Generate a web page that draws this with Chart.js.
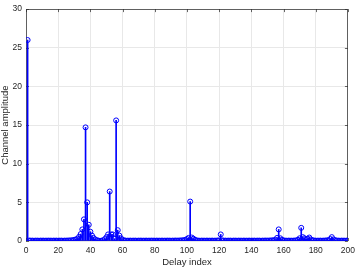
<!DOCTYPE html>
<html><head><meta charset="utf-8">
<script src="https://cdn.jsdelivr.net/npm/chart.js@4"></script>
<style>html,body{margin:0;padding:0;background:#fff}#wrap{width:360px;height:269px;position:relative}</style>
</head><body><div id="wrap"><canvas id="c"></canvas></div>
<script>
// Delay indices 1..200
const delayIndex = Array.from({length: 200}, (_, i) => i + 1);
// Channel amplitude
const amplitude = [
  26.0, 0.06, 0.05, 0.05, 0.04, 0.05, 0.05, 0.04, 0.05, 0.05,
  0.05, 0.04, 0.05, 0.05, 0.05, 0.04, 0.05, 0.05, 0.05, 0.04,
  0.05, 0.05, 0.04, 0.05, 0.05, 0.06, 0.07, 0.08, 0.10, 0.15,
  0.20, 0.30, 0.55, 0.90, 1.50, 2.80, 14.7, 5.00, 2.10, 1.20,
  0.70, 0.40, 0.20, 0.10, 0.05, 0.03, 0.04, 0.10, 0.25, 0.50,
  0.85, 6.40, 0.85, 0.85, 0.30, 15.6, 1.40, 0.70, 0.35, 0.15,
  0.08, 0.05, 0.04, 0.05, 0.05, 0.04, 0.05, 0.05, 0.04, 0.05,
  0.05, 0.05, 0.04, 0.05, 0.05, 0.04, 0.05, 0.05, 0.05, 0.04,
  0.05, 0.05, 0.04, 0.05, 0.05, 0.04, 0.05, 0.05, 0.05, 0.04,
  0.05, 0.05, 0.06, 0.05, 0.06, 0.07, 0.08, 0.10, 0.15, 0.25,
  0.40, 5.10, 0.45, 0.30, 0.15, 0.08, 0.05, 0.04, 0.05, 0.05,
  0.04, 0.05, 0.05, 0.04, 0.05, 0.05, 0.04, 0.05, 0.06, 0.08,
  0.85, 0.08, 0.05, 0.05, 0.04, 0.05, 0.05, 0.04, 0.05, 0.05,
  0.04, 0.05, 0.05, 0.04, 0.05, 0.05, 0.04, 0.05, 0.05, 0.04,
  0.05, 0.05, 0.04, 0.05, 0.05, 0.04, 0.05, 0.05, 0.06, 0.05,
  0.06, 0.07, 0.08, 0.10, 0.15, 0.40, 1.50, 0.35, 0.15, 0.08,
  0.05, 0.04, 0.05, 0.05, 0.04, 0.05, 0.06, 0.08, 0.15, 0.35,
  1.70, 0.50, 0.35, 0.25, 0.30, 0.45, 0.20, 0.10, 0.06, 0.05,
  0.04, 0.05, 0.05, 0.04, 0.05, 0.06, 0.08, 0.10, 0.25, 0.50,
  0.20, 0.10, 0.06, 0.05, 0.04, 0.05, 0.05, 0.04, 0.05, 0.05
];
const xTicks = [0, 20, 40, 60, 80, 100, 120, 140, 160, 180, 200];
const yTicks = [0, 5, 10, 15, 20, 25, 30];

const points = delayIndex.map((x, i) => ({x: x, y: amplitude[i]}));
const BLUE = '#0000ff';
const AXIS = 'rgba(38,38,38,0.7)';
const FONT = "'Liberation Sans', Arial, Helvetica, sans-serif";

const boxPlugin = {
  id: 'box',
  beforeDatasetsDraw(chart) {
    const {ctx, chartArea: a, scales} = chart;
    ctx.save();
    ctx.strokeStyle = AXIS;
    ctx.lineWidth = 1;
    ctx.beginPath();
    ctx.rect(Math.round(a.left) + 0.5, Math.round(a.top) + 0.5,
             Math.round(a.right - a.left) - 1, Math.round(a.bottom - a.top) - 1);
    ctx.stroke();
    const L = 3;
    ctx.beginPath();
    xTicks.forEach(v => {
      const px = Math.round(scales.x.getPixelForValue(v)) + 0.5;
      ctx.moveTo(px, a.bottom); ctx.lineTo(px, a.bottom - L);
      ctx.moveTo(px, a.top); ctx.lineTo(px, a.top + L);
    });
    yTicks.forEach(v => {
      const py = Math.round(scales.y.getPixelForValue(v)) + 0.5;
      ctx.moveTo(a.left, py); ctx.lineTo(a.left + L, py);
      ctx.moveTo(a.right, py); ctx.lineTo(a.right - L, py);
    });
    ctx.stroke();
    ctx.restore();
  }
};

new Chart(document.getElementById('c'), {
  type: 'bar',
  data: {
    datasets: [
      {
        type: 'scatter',
        data: points,
        showLine: false,
        pointStyle: 'circle',
        pointRadius: 2.5,
        pointBorderWidth: 1,
        borderColor: BLUE,
        backgroundColor: 'rgba(0,0,0,0)',
        pointBackgroundColor: 'rgba(0,0,0,0)',
        pointBorderColor: BLUE,
        order: 0
      },
      {
        type: 'bar',
        data: points,
        backgroundColor: BLUE,
        borderWidth: 0,
        barThickness: 1,
        order: 1
      }
    ]
  },
  options: {
    responsive: true,
    maintainAspectRatio: false,
    animation: false,
    events: [],
    layout: {padding: {top: 2, right: 7, left: 0, bottom: 0}},
    plugins: {legend: {display: false}, tooltip: {enabled: false}},
    scales: {
      x: {
        type: 'linear', min: 0, max: 200, offset: false,
        afterBuildTicks: s => { s.ticks = xTicks.map(v => ({value: v})); },
        afterFit: s => { s.height = 28; },
        grid: {color: '#e8e8e8', drawTicks: false, lineWidth: 1, offset: false},
        border: {display: false},
        ticks: {color: '#262626', font: {family: FONT, size: 8.5}, padding: 5, maxRotation: 0, autoSkip: false},
        title: {display: true, text: 'Delay index', color: '#262626', font: {family: FONT, size: 9.5}, padding: {top: 0, bottom: 1}}
      },
      y: {
        type: 'linear', min: 0, max: 30,
        afterBuildTicks: s => { s.ticks = yTicks.map(v => ({value: v})); },
        afterFit: s => { s.width = 26; },
        grid: {color: '#e8e8e8', drawTicks: false, lineWidth: 1},
        border: {display: false},
        ticks: {color: '#262626', font: {family: FONT, size: 8.5}, padding: 4, autoSkip: false},
        title: {display: true, text: 'Channel amplitude', color: '#262626', font: {family: FONT, size: 9.5}, padding: {top: 0, bottom: 0}}
      }
    }
  },
  plugins: [boxPlugin]
});
</script></body></html>
